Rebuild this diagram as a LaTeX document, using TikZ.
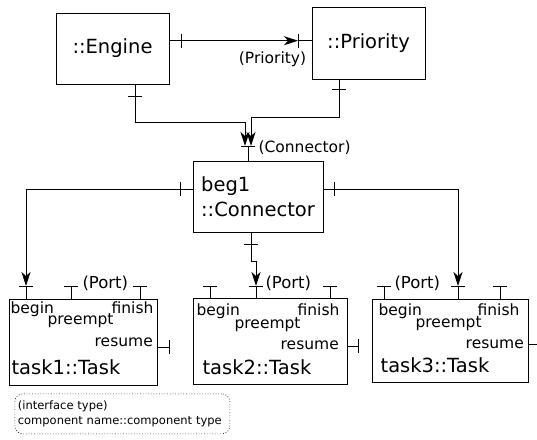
\documentclass[tikz,border=0pt]{standalone}
\usepackage{fontspec}
\setmainfont{DejaVu Sans}
\usetikzlibrary{arrows.meta,positioning}

\begin{document}
\begin{tikzpicture}
[x=1pt, y=-1pt, line width=1pt,
% STYLES
every node/.style={inner sep=0pt},
% The component style is used to draw the boxes of the components
component/.style={rectangle, draw, inner sep=3pt, font=\fontsize{19.5}{25}\selectfont},
% The tasklabel style is used for the names inside the task boxes
tasklabel/.style={font=\fontsize{15.5}{18}\selectfont},
% The portlabel style is used to write the interface types
portlabel/.style={font=\fontsize{15.5}{18}\selectfont},
% The legend style is used for the dotted key box
legend/.style={rectangle, draw, dotted, line width=0.7pt, rounded corners=8pt, align=left, text width=209pt, minimum height=40pt, inner xsep=3pt, font=\fontsize{11.5}{15.5}\selectfont},
stub/.style={-{Bar[width=14pt]}},
link/.style={-{Stealth[length=14pt, width=9pt, inset=4pt]}}]

\useasboundingbox (0,0) rectangle (537,439);

% Draw components
\node [component, minimum width=113pt, minimum height=71pt] (engine) at (112.5,48.5) {::Engine};
\node [component, minimum width=113pt, minimum height=72pt] (priority) at (368.5,43) {::Priority};
\node [component, minimum width=130pt, minimum height=71pt, align=left] (conn) at (258,196.5) {beg1\\::Connector};
\node [component, minimum width=148pt, minimum height=86pt] (task1) at (83,342) {};
\node [component, minimum width=154pt, minimum height=86pt] (task2) at (270,341) {};
\node [component, minimum width=156pt, minimum height=83pt] (task3) at (450,340.5) {};

% TASK1
\node [tasklabel, anchor=base west] (begin1) at ([shift={(1.6,15)}]task1.north west) {begin};
\node [tasklabel, anchor=base east] (finish1) at ([shift={(-3.6,15)}]task1.north east) {finish};
\node [tasklabel, anchor=base west] (preempt1) at ([shift={(38.6,26)}]task1.north west) {preempt};
\node [tasklabel, anchor=base east] (resume1) at ([shift={(-4.2,48)}]task1.north east) {resume};
\node [component, draw=none, inner sep=0pt, anchor=base west] (name1) at ([shift={(2.6,76)}]task1.north west) {task1::Task};
% TASK2
\node [tasklabel, anchor=base west] (begin2) at ([shift={(3.6,18)}]task2.north west) {begin};
\node [tasklabel, anchor=base east] (finish2) at ([shift={(-7.6,18)}]task2.north east) {finish};
\node [tasklabel, anchor=base west] (preempt2) at ([shift={(41.6,31)}]task2.north west) {preempt};
\node [tasklabel, anchor=base east] (resume2) at ([shift={(-8.2,52)}]task2.north east) {resume};
\node [component, draw=none, inner sep=0pt, anchor=base west] (name2) at ([shift={(9.6,77)}]task2.north west) {task2::Task};
% TASK3
\node [tasklabel, anchor=base west] (begin3) at ([shift={(6.6,17)}]task3.north west) {begin};
\node [tasklabel, anchor=base east] (finish3) at ([shift={(-8.6,17)}]task3.north east) {finish};
\node [tasklabel, anchor=base west] (preempt3) at ([shift={(43.6,29)}]task3.north west) {preempt};
\node [tasklabel, anchor=base east] (resume3) at ([shift={(-4.2,50)}]task3.north east) {resume};
\node [component, draw=none, inner sep=0pt, anchor=base west] (name3) at ([shift={(8.6,74)}]task3.north west) {task3::Task};

% Ports
\coordinate (ep) at (182,40.7);
\coordinate (pp) at (298,40.7);
\coordinate (eb) at (135,97);
\coordinate (pb) at (339,90);
\coordinate (ct) at (248,146);
\coordinate (cl) at (180,189);
\coordinate (cr) at (335,189);
\coordinate (cb) at (251,245);
\coordinate (t1a) at (26,286);
\coordinate (t1b) at (71,286);
\coordinate (t1c) at (140,286);
\coordinate (t1r) at (170,347);
\coordinate (t2a) at (210,286);
\coordinate (t2b) at (256,286);
\coordinate (t2c) at (330,286);
\coordinate (t2r) at (359,346);
\coordinate (t3a) at (384,286);
\coordinate (t3b) at (458,286);
\coordinate (t3c) at (500,286);
\coordinate (t3r) at (541,344);

\draw [stub] (engine.east |- ep) -- (ep);
\draw [stub] (priority.west |- pp) -- (pp);
\draw [stub] (engine.south -| eb) -- (eb);
\draw [stub] (priority.south -| pb) -- (pb);
\draw [stub] (conn.north -| ct) -- (ct);
\draw [stub] (conn.west |- cl) -- (cl);
\draw [stub] (conn.east |- cr) -- (cr);
\draw [stub] (conn.south -| cb) -- (cb);
\draw [stub] (task1.north -| t1a) -- (t1a);
\draw [stub] (task1.north -| t1b) -- (t1b);
\draw [stub] (task1.north -| t1c) -- (t1c);
\draw [stub] (task1.east |- t1r) -- (t1r);
\draw [stub] (task2.north -| t2a) -- (t2a);
\draw [stub] (task2.north -| t2b) -- (t2b);
\draw [stub] (task2.north -| t2c) -- (t2c);
\draw [stub] (task2.east |- t2r) -- (t2r);
\draw [stub] (task3.north -| t3a) -- (t3a);
\draw [stub] (task3.north -| t3b) -- (t3b);
\draw [stub] (task3.north -| t3c) -- (t3c);
\draw [stub] (task3.east |- t3r) -- (t3r);

% Interface types
\node [portlabel, below=11pt of pp, xshift=-25.5pt] (prioritytype) {(Priority)};
\node [portlabel, right=10pt of ct, yshift=-2pt] (conntype) {(Connector)};
\node [portlabel, font=\fontsize{16.5}{19}\selectfont, right=11pt of t1b, yshift=3pt] (porttype1) {(Port)};
\node [portlabel, font=\fontsize{16.5}{19}\selectfont, right=9pt of t2b, yshift=3pt] (porttype2) {(Port)};
\node [portlabel, font=\fontsize{16.5}{19}\selectfont, right=10pt of t3a, yshift=3pt] (porttype3) {(Port)};

% Draw the links between ports
\draw [link] (ep) -- (pp);
\draw [link] (eb) -- ++(0,25) -| ([xshift=-3pt]ct);
\draw [link] (pb) -- ++(0,27) -| ([xshift=3pt]ct);
\draw [link] (cl) -| (t1a);
\draw [link] (cr) -| (t3b);
\draw [link] (cb) -- ++(0,16) -| (t2b);

% Legend
\node [legend, below right=8pt and 6pt of task1.south west] (key) {(interface type)\\component name::component type};

\end{tikzpicture}
\end{document}
